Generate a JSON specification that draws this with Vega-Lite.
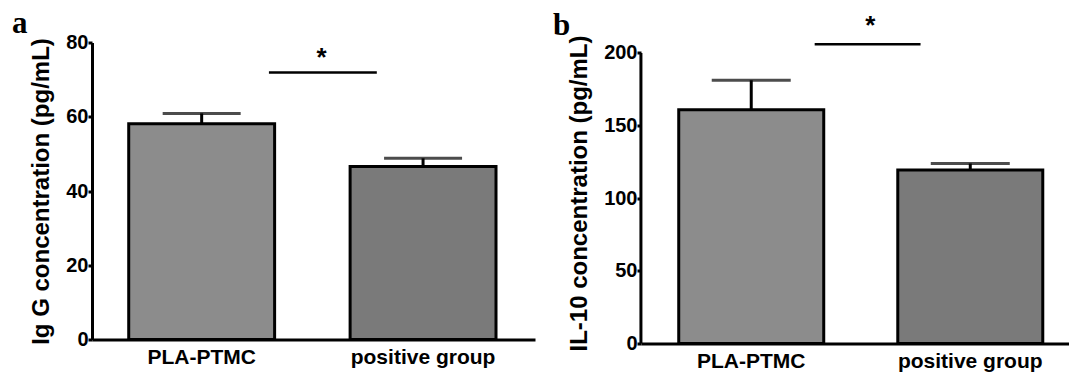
{
  "$schema": "https://vega.github.io/schema/vega-lite/v6.json",
  "background": "white",
  "padding": {"left": 12, "right": 0, "top": 7.5, "bottom": 0},
  "autosize": {"type": "pad"},
  "config": {
    "font": "Liberation Sans",
    "view": {"stroke": null},
    "axis": {
      "labelFont": "Liberation Sans", "labelFontWeight": "bold", "labelFontSize": 20, "labelColor": "black",
      "titleFont": "Liberation Sans", "titleFontWeight": "bold", "titleFontSize": 24, "titleColor": "black",
      "domainColor": "black", "domainWidth": 3, "tickColor": "black", "tickWidth": 3, "grid": false
    },
    "title": {"font": "Liberation Serif", "fontWeight": "bold", "color": "black", "anchor": "start", "frame": "group", "baseline": "alphabetic"},
    "concat": {"spacing": 18}
  },
  "hconcat": [
    {
      "width": 443,
      "height": 297,
      "title": {"text": "a", "fontSize": 31, "dx": -80, "dy": 9.3, "offset": 2},
      "layer": [
        {
          "data": {"values": [
            {"group": "PLA-PTMC", "mean": 58.1, "upper": 60.9},
            {"group": "positive group", "mean": 46.6, "upper": 48.8}
          ]},
          "encoding": {
            "x": {"field": "group", "type": "nominal", "sort": null, "title": null,
              "scale": {"paddingInner": 0.341, "paddingOuter": 0.171, "align": 0.485},
              "axis": {"labelAngle": 0, "ticks": false, "labelPadding": 7, "labelFontSize": 21}}
          },
          "layer": [
            {
              "mark": {"type": "bar", "stroke": "black", "strokeWidth": 3},
              "encoding": {
                "y": {"field": "mean", "type": "quantitative", "title": "Ig G concentration (pg/mL)",
                  "scale": {"domain": [0, 80], "nice": false},
                  "axis": {"values": [0, 20, 40, 60, 80], "tickSize": 4, "labelPadding": 0, "titlePadding": 12}},
                "fill": {"field": "group", "type": "nominal",
                  "scale": {"domain": ["PLA-PTMC", "positive group"], "range": ["#8c8c8c", "#7a7a7a"]}, "legend": null}
              }
            },
            {
              "mark": {"type": "rule", "color": "black", "strokeWidth": 3},
              "encoding": {
                "y": {"field": "mean", "type": "quantitative", "title": "Ig G concentration (pg/mL)"},
                "y2": {"field": "upper"}
              }
            },
            {
              "mark": {"type": "tick", "orient": "horizontal", "color": "black", "thickness": 3, "size": 78},
              "encoding": {
                "y": {"field": "upper", "type": "quantitative", "title": "Ig G concentration (pg/mL)"}
              }
            }
          ]
        },
        {
          "data": {"values": [
            {"from": "PLA-PTMC", "to": "positive group", "line": 71.9, "star": 73.7, "label": "*"}
          ]},
          "layer": [
            {
              "mark": {"type": "rule", "color": "black", "strokeWidth": 2.5},
              "encoding": {
                "x": {"field": "from", "type": "nominal", "sort": null, "title": null, "bandPosition": 0.961},
                "x2": {"field": "to", "bandPosition": 0.183},
                "y": {"field": "line", "type": "quantitative", "title": "Ig G concentration (pg/mL)"}
              }
            },
            {
              "mark": {"type": "text", "fontSize": 26, "fontWeight": "bold", "baseline": "alphabetic", "align": "center", "color": "black"},
              "encoding": {
                "x": {"field": "to", "type": "nominal", "sort": null, "title": null, "bandPosition": -0.196},
                "y": {"field": "star", "type": "quantitative", "title": "Ig G concentration (pg/mL)"},
                "text": {"field": "label"}
              }
            }
          ]
        }
      ]
    },
    {
      "width": 428,
      "height": 301,
      "title": {"text": "b", "fontSize": 31, "dx": -88, "dy": 30.8, "offset": 2},
      "layer": [
        {
          "data": {"values": [
            {"group": "PLA-PTMC", "mean": 160.9, "upper": 181.2},
            {"group": "positive group", "mean": 119.4, "upper": 123.9}
          ]},
          "encoding": {
            "x": {"field": "group", "type": "nominal", "sort": null, "title": null,
              "scale": {"paddingInner": 0.338, "paddingOuter": 0.146, "align": 0.59},
              "axis": {"labelAngle": 0, "ticks": false, "labelPadding": 7, "labelFontSize": 21}}
          },
          "layer": [
            {
              "mark": {"type": "bar", "stroke": "black", "strokeWidth": 3},
              "encoding": {
                "y": {"field": "mean", "type": "quantitative", "title": "IL-10 concentration (pg/mL)",
                  "scale": {"domain": [0, 207.2], "nice": false},
                  "axis": {"values": [0, 50, 100, 150, 200], "domain": false, "tickSize": 4, "labelPadding": 0, "titlePadding": 12}},
                "fill": {"field": "group", "type": "nominal",
                  "scale": {"domain": ["PLA-PTMC", "positive group"], "range": ["#8c8c8c", "#7a7a7a"]}, "legend": null}
              }
            },
            {
              "mark": {"type": "rule", "color": "black", "strokeWidth": 3},
              "encoding": {
                "y": {"field": "mean", "type": "quantitative", "title": "IL-10 concentration (pg/mL)"},
                "y2": {"field": "upper"}
              }
            },
            {
              "mark": {"type": "tick", "orient": "horizontal", "color": "black", "thickness": 3, "size": 79},
              "encoding": {
                "y": {"field": "upper", "type": "quantitative", "title": "IL-10 concentration (pg/mL)"}
              }
            }
          ]
        },
        {
          "data": {"values": [
            {"from": "PLA-PTMC", "to": "positive group", "line": 206, "star": 212.8, "label": "*", "axis_low": 0, "axis_high": 200}
          ]},
          "layer": [
            {
              "mark": {"type": "rule", "color": "black", "strokeWidth": 3},
              "encoding": {
                "x": {"field": "from", "type": "nominal", "sort": null, "title": null, "bandPosition": -0.2607},
                "y": {"field": "axis_low", "type": "quantitative", "title": "IL-10 concentration (pg/mL)"},
                "y2": {"field": "axis_high"}
              }
            },
            {
              "mark": {"type": "rule", "color": "black", "strokeWidth": 2.5},
              "encoding": {
                "x": {"field": "from", "type": "nominal", "sort": null, "title": null, "bandPosition": 0.9375},
                "x2": {"field": "to", "bandPosition": 0.157},
                "y": {"field": "line", "type": "quantitative", "title": "IL-10 concentration (pg/mL)"}
              }
            },
            {
              "mark": {"type": "text", "fontSize": 26, "fontWeight": "bold", "baseline": "alphabetic", "align": "center", "color": "black"},
              "encoding": {
                "x": {"field": "to", "type": "nominal", "sort": null, "title": null, "bandPosition": -0.19},
                "y": {"field": "star", "type": "quantitative", "title": "IL-10 concentration (pg/mL)"},
                "text": {"field": "label"}
              }
            }
          ]
        }
      ]
    }
  ]
}
